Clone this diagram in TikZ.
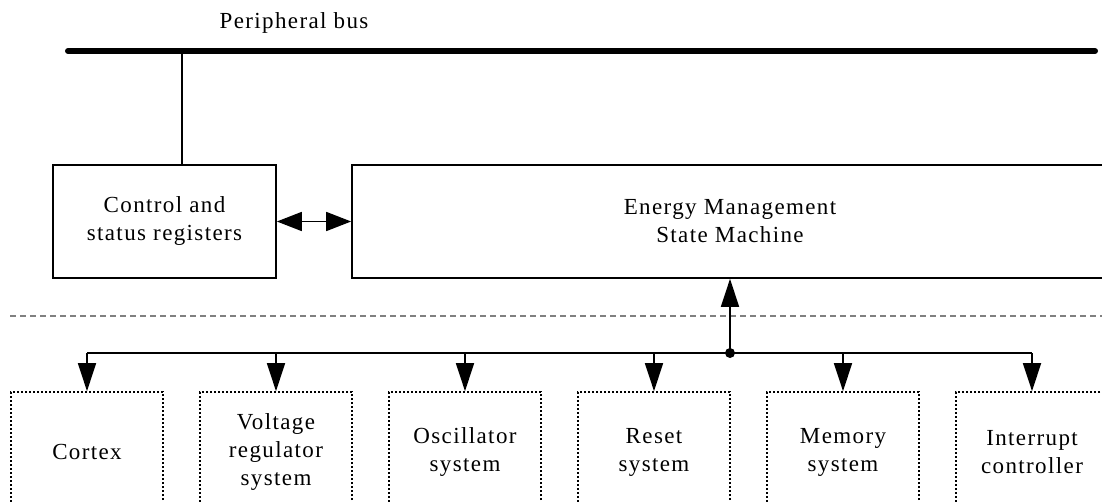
\documentclass[tikz,border=0pt]{standalone}
\usepackage{fontspec}
\setmainfont{Liberation Serif}[LetterSpace=6]
\usetikzlibrary{arrows.meta}
\begin{document}
\begin{tikzpicture}[x=1pt,y=-1pt,
  lbl/.style={font=\fontsize{23}{28}\selectfont, align=center},
  solidbox/.style={draw, line width=1.7pt, lbl, inner sep=0pt},
  dotbox/.style={draw, line width=1.7pt, dash pattern=on 2pt off 2pt, lbl, inner sep=0pt, minimum width=152pt, minimum height=120pt},
  wire/.style={line width=1.7pt},
  tipB/.style={-{Triangle[length=28pt,width=18pt]}},
  tipD/.style={{Triangle[length=25pt,width=19pt]}-{Triangle[length=25pt,width=19pt]}}
]
\useasboundingbox (0,0) rectangle (1102,502);
\clip (0,0) rectangle (1102,502);

% bus
\node[lbl, anchor=base] (title) at (294,29) {Peripheral bus};
\coordinate (busL) at (68,51);
\coordinate (busR) at (1095,51);
\draw[line width=6pt, line cap=round] (busL) -- (busR);

% upper boxes
\node[solidbox, minimum width=223pt, minimum height=113pt] (csr) at (164.5,221.5) {Control and\\status registers};
\node[solidbox, minimum width=756pt, minimum height=113pt] (emsm) at (730,221.5) {Energy Management\\State Machine};

\coordinate (tap) at (182,51);
\draw[wire] (tap) -- (tap |- csr.north);
\draw[wire, tipD] (csr.east) -- (emsm.west);

% dashed separator
\coordinate (dL) at (10,316);
\coordinate (dR) at (1102,316);
\draw[line width=1.3pt, gray, dash pattern=on 6pt off 4pt] (dL) -- (dR);

% lower boxes
\node[dotbox] (cortex) at (87,452) {Cortex};
\node[dotbox] (volt) at (276,452) {Voltage\\regulator\\system};
\node[dotbox] (osc) at (465,452) {Oscillator\\system};
\node[dotbox] (reset) at (654,452) {Reset\\system};
\node[dotbox] (mem) at (843,452) {Memory\\system};
\node[dotbox] (intr) at (1032,452) {Interrupt\\controller};

\coordinate (j) at (730,353);
\draw[wire, tipB] (j) -- (emsm.south);
\draw[wire] (cortex.north |- j) -- (intr.north |- j);
\foreach \b in {cortex,volt,osc,reset,mem,intr}{
  \draw[wire, tipB] (\b.north |- j) -- (\b.north);
}
\fill (j) circle (5pt);
\end{tikzpicture}
\end{document}
